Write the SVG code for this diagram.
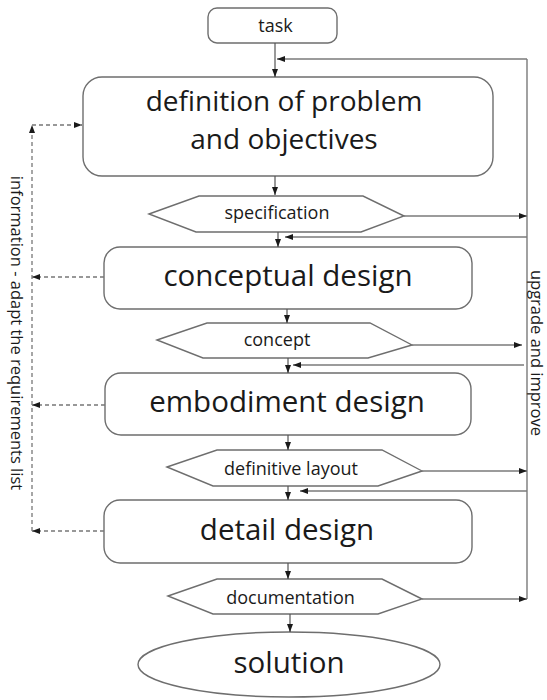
<svg xmlns="http://www.w3.org/2000/svg" width="547" height="700" viewBox="0 0 547 700">
  <style>
    .box { fill: #ffffff; stroke: #6e6e6e; stroke-width: 1.4; }
    .big { font-family: "Open Sans", "Liberation Sans", sans-serif; font-size: 29.5px; fill: #1a1a1a; text-anchor: middle; }
    .two { font-size: 28px; }
    .small { font-family: "Open Sans", "Liberation Sans", sans-serif; font-size: 18px; fill: #1a1a1a; text-anchor: middle; }
    .side { font-family: "Open Sans", "Liberation Sans", sans-serif; font-size: 16.5px; fill: #1a1a1a; text-anchor: middle; dominant-baseline: central; }
    .flow { fill: none; stroke: #555555; stroke-width: 1.2; }
    .loop { fill: none; stroke: #7a7a7a; stroke-width: 1.4; }
    .info { fill: none; stroke: #777777; stroke-width: 1.3; stroke-dasharray: 4 3; }
  </style>
  <defs>
    <marker id="tip" markerUnits="userSpaceOnUse" markerWidth="8" markerHeight="8" viewBox="0 0 8 8" refX="8" refY="4" orient="auto">
      <path d="M0,1 L8,4 L0,7 Z" fill="#1a1a1a"/>
    </marker>
  </defs>

  <!-- process steps -->
  <g id="task">
    <rect class="box" x="208" y="8" width="129" height="35" rx="9"/>
    <text class="small" x="275.5" y="32">task</text>
  </g>

  <g id="definition">
    <rect class="box" x="83" y="77" width="410" height="99" rx="19"/>
    <text class="big two" x="284" y="111">definition of problem</text>
    <text class="big two" x="284" y="149">and objectives</text>
  </g>

  <g id="specification">
    <polygon class="box" points="149,214 199,196 363,196 404,216 361,232 196,232"/>
    <text class="small" x="277" y="219">specification</text>
  </g>

  <g id="conceptual">
    <rect class="box" x="104" y="247" width="368" height="62" rx="16"/>
    <text class="big" x="288" y="286">conceptual design</text>
  </g>

  <g id="concept">
    <polygon class="box" points="157,340 207,323 370,323 412,345 368,358 203,358"/>
    <text class="small" x="277" y="346">concept</text>
  </g>

  <g id="embodiment">
    <rect class="box" x="105" y="373" width="366" height="62" rx="16"/>
    <text class="big" x="287" y="412">embodiment design</text>
  </g>

  <g id="layout">
    <polygon class="box" points="167,467 217,450 382,450 422,471 378,486 213,486"/>
    <text class="small" x="291" y="475">definitive layout</text>
  </g>

  <g id="detail">
    <rect class="box" x="104" y="500" width="368" height="63" rx="16"/>
    <text class="big" x="287" y="540">detail design</text>
  </g>

  <g id="documentation">
    <polygon class="box" points="168,596 217,579 382,579 422,599 378,614 213,614"/>
    <text class="small" x="290.5" y="604">documentation</text>
  </g>

  <g id="solution">
    <ellipse class="box" cx="289" cy="664.5" rx="151" ry="32.5"/>
    <text class="big" x="289" y="673">solution</text>
  </g>

  <!-- connectors -->
  <g id="connectors">
    <!-- main downward flow -->
    <line class="flow" x1="275" y1="43" x2="275" y2="77" marker-end="url(#tip)"/>
    <line class="flow" x1="275" y1="176" x2="275" y2="195" marker-end="url(#tip)"/>
    <line class="flow" x1="278" y1="232" x2="278" y2="247" marker-end="url(#tip)"/>
    <line class="flow" x1="287" y1="309" x2="287" y2="323" marker-end="url(#tip)"/>
    <line class="flow" x1="288" y1="358" x2="288" y2="373" marker-end="url(#tip)"/>
    <line class="flow" x1="288" y1="435" x2="288" y2="450" marker-end="url(#tip)"/>
    <line class="flow" x1="288" y1="486" x2="288" y2="500" marker-end="url(#tip)"/>
    <line class="flow" x1="288" y1="563" x2="288" y2="579" marker-end="url(#tip)"/>
    <line class="flow" x1="290" y1="614" x2="290" y2="632" marker-end="url(#tip)"/>

    <!-- upgrade and improve loop -->
    <line class="loop" x1="527" y1="59" x2="527" y2="599"/>
    <line class="loop" x1="404" y1="216" x2="527" y2="216" marker-end="url(#tip)"/>
    <line class="loop" x1="412" y1="345" x2="522" y2="345" marker-end="url(#tip)"/>
    <line class="loop" x1="422" y1="471" x2="527" y2="471" marker-end="url(#tip)"/>
    <line class="loop" x1="422" y1="599" x2="527" y2="599" marker-end="url(#tip)"/>
    <line class="loop" x1="527" y1="59" x2="277" y2="59" marker-end="url(#tip)"/>
    <line class="loop" x1="527" y1="237" x2="285" y2="237" marker-end="url(#tip)"/>
    <line class="loop" x1="524" y1="365" x2="293" y2="365" marker-end="url(#tip)"/>
    <line class="loop" x1="527" y1="491" x2="300" y2="491" marker-end="url(#tip)"/>

    <!-- information feedback to the requirements list -->
    <line class="info" x1="104" y1="277" x2="32" y2="277" marker-end="url(#tip)"/>
    <line class="info" x1="105" y1="405" x2="32" y2="405" marker-end="url(#tip)"/>
    <line class="info" x1="104" y1="531" x2="32" y2="531" marker-end="url(#tip)"/>
    <line class="info" x1="32" y1="531" x2="32" y2="125" marker-end="url(#tip)"/>
    <line class="info" x1="32" y1="125" x2="82" y2="125" marker-end="url(#tip)"/>
  </g>

  <!-- side labels -->
  <text class="side" transform="translate(17,333) rotate(90)">information - adapt the requirements list</text>
  <text class="side" transform="translate(537,353) rotate(90)">upgrade and improve</text>
</svg>
